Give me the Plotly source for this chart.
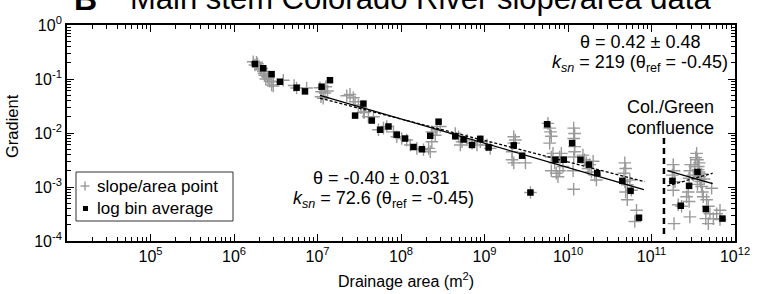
import plotly.graph_objects as go

# ---------------- data ----------------
# slope/area points (gray crosses)
point_area = [
    1.70e6, 1.86e6, 1.78e6, 2.00e6, 2.09e6, 2.24e6, 2.34e6, 2.51e6, 2.40e6, 2.69e6,
    2.82e6, 2.95e6, 3.89e6, 5.25e6, 5.62e6, 7.41e6, 1.07e7, 1.12e7, 1.10e7, 1.17e7,
    1.26e7, 1.23e7, 1.32e7, 2.24e7, 2.45e7, 2.69e7, 2.82e7, 3.09e7, 3.31e7, 3.63e7,
    4.07e7, 1.91e6, 2.14e6, 2.29e6, 2.57e6, 2.95e6,
    3.55e7, 4.68e7, 5.37e7, 6.17e7, 6.76e7, 8.13e7, 8.91e7, 1.02e8, 1.17e8, 1.29e8,
    1.55e8, 1.86e8, 2.14e8, 2.24e8, 2.34e8, 2.57e8, 2.69e8, 2.34e8, 2.95e8, 4.47e8,
    4.90e8, 5.13e8, 5.37e8, 6.17e8, 7.08e8, 8.13e8, 8.91e8, 1.07e9,
    1.17e9, 2.24e9, 2.34e9, 2.24e9, 2.14e9, 2.14e9, 2.24e9, 3.09e9, 5.75e9, 6.03e9,
    6.17e9, 6.31e9, 6.03e9, 6.31e9, 6.61e9, 6.92e9, 6.31e9, 7.24e9, 7.94e9, 7.59e9,
    7.94e9, 8.32e9, 8.71e9, 1.17e10, 1.20e10, 1.17e10, 1.20e10, 1.20e10, 1.17e10, 1.15e10,
    1.17e10, 1.51e10, 1.58e10, 1.66e10, 1.74e10, 1.82e10, 1.91e10, 2.09e10, 2.19e10, 2.00e10,
    4.79e10, 4.90e10, 4.68e10, 4.79e10, 5.13e10, 4.90e10, 5.13e10, 5.75e10, 6.61e10, 6.31e10,
    5.50e10,
    1.82e11, 1.86e11, 1.78e11, 1.91e11, 1.82e11, 1.86e11, 2.09e11, 2.29e11, 2.88e11, 2.63e11,
    2.75e11, 2.82e11, 2.82e11, 2.88e11, 2.95e11, 3.16e11, 3.47e11, 3.55e11, 3.63e11, 3.72e11,
    3.80e11, 3.89e11, 3.98e11, 4.07e11, 3.72e11, 4.17e11, 4.57e11, 4.79e11, 5.01e11, 4.47e11,
    4.79e11, 5.25e11, 6.03e11, 6.61e11, 6.61e11, 5.50e11, 3.39e11, 3.63e11, 3.80e11, 3.55e11,
    3.31e11, 3.98e11, 4.27e11, 3.55e9,
]
point_gradient = [
    0.209, 0.204, 0.182, 0.170, 0.148, 0.138, 0.117, 0.110, 0.100, 0.091,
    0.078, 0.089, 0.095, 0.076, 0.068, 0.068, 0.069, 0.058, 0.047, 0.044,
    0.072, 0.055, 0.060, 0.049, 0.052, 0.045, 0.038, 0.033, 0.0295, 0.024,
    0.020, 0.191, 0.158, 0.126, 0.105, 0.074,
    0.0245, 0.020, 0.0115, 0.0123, 0.0132, 0.0105, 0.0085, 0.0079, 0.0074, 0.0060,
    0.0052, 0.0049, 0.0052, 0.0045, 0.0069, 0.0091, 0.0115, 0.0105, 0.0132, 0.0098,
    0.0085, 0.0060, 0.0069, 0.0074, 0.0065, 0.0060, 0.0069, 0.0060,
    0.0052, 0.0085, 0.0074, 0.0065, 0.0045, 0.0032, 0.0028, 0.0028, 0.0151, 0.0123,
    0.0105, 0.0087, 0.0065, 0.0036, 0.0042, 0.0028, 0.0020, 0.0018, 0.0020, 0.00155,
    0.0036, 0.0042, 0.0024, 0.0123, 0.0098, 0.0079, 0.0056, 0.0045, 0.0036, 0.0020,
    0.00091, 0.0039, 0.0032, 0.0028, 0.0022, 0.0026, 0.0019, 0.00166, 0.00135, 0.0030,
    0.0028, 0.0022, 0.0018, 0.00126, 0.0011, 0.00081, 0.00058, 0.00087, 0.00037, 0.00023,
    0.00135,
    0.0026, 0.0020, 0.00166, 0.00126, 0.00087, 0.00021, 0.00047, 0.00044, 0.00028, 0.00066,
    0.00081, 0.00054, 0.00145, 0.0020, 0.0026, 0.00166, 0.0042, 0.0032, 0.0024, 0.0019,
    0.00155, 0.00126, 0.00102, 0.00081, 0.0028, 0.00066, 0.00058, 0.00044, 0.00032, 0.00026,
    0.00021, 0.00095, 0.00032, 0.00037, 0.00025, 0.00026, 0.0035, 0.0021, 0.00138, 0.00112,
    0.0024, 0.00174, 0.00141, 0.00079,
]

# log bin averages (black squares)
bin_area = [
    1.78e6, 2.24e6, 2.82e6, 3.55e6, 5.62e6, 7.08e6, 1.12e7, 1.41e7, 2.82e7, 3.55e7,
    4.47e7, 5.62e7, 7.08e7, 8.91e7, 1.12e8, 1.41e8, 1.78e8, 2.24e8, 2.82e8, 4.47e8,
    5.62e8, 7.08e8, 8.91e8, 1.12e9, 2.24e9, 2.82e9, 3.55e9, 5.62e9, 7.08e9, 8.91e9,
    1.12e10, 1.41e10, 1.78e10, 2.24e10, 4.47e10, 5.62e10, 7.08e10,
    1.78e11, 2.24e11, 2.82e11, 3.55e11, 4.47e11, 7.08e11,
]
bin_gradient = [
    0.190, 0.158, 0.123, 0.089, 0.069, 0.059, 0.072, 0.095, 0.021, 0.035,
    0.017, 0.0115, 0.0132, 0.0093, 0.0079, 0.0055, 0.0050, 0.0089, 0.0162, 0.0087,
    0.0076, 0.0060, 0.0078, 0.0054, 0.0059, 0.0038, 0.00079, 0.0145, 0.0032, 0.0032,
    0.0065, 0.0032, 0.0026, 0.0018, 0.0013, 0.00085, 0.00027,
    0.0013, 0.00045, 0.00105, 0.0019, 0.00039, 0.00026,
]

# fitted lines (end points)
ref_fit_area = [1.07e7, 8.1e10]          # k_sn = 72.6, theta_ref = -0.45 (solid)
ref_fit_gradient = [0.050, 0.00089]
reg_fit_area = [1.07e7, 8.3e10]          # theta = -0.40 regression (dotted)
reg_fit_gradient = [0.044, 0.00126]
up_ref_fit_area = [1.55e11, 5.4e11]      # k_sn = 219, theta_ref = -0.45 (solid)
up_ref_fit_gradient = [0.0020, 0.00115]
up_reg_fit_area = [1.55e11, 5.4e11]      # theta = 0.42 regression (dotted)
up_reg_fit_gradient = [0.00105, 0.0018]
confluence_area = [1.41e11, 1.41e11]
confluence_gradient = [0.0081, 0.00012]

x_tick_vals = [1e5, 1e6, 1e7, 1e8, 1e9, 1e10, 1e11, 1e12]
x_tick_text = ["10<sup>5</sup>", "10<sup>6</sup>", "10<sup>7</sup>", "10<sup>8</sup>",
               "10<sup>9</sup>", "10<sup>10</sup>", "10<sup>11</sup>", "10<sup>12</sup>"]
y_tick_vals = [1, 1e-1, 1e-2, 1e-3, 1e-4]
y_tick_text = ["10<sup>0</sup>", "10<sup>-1</sup>", "10<sup>-2</sup>",
               "10<sup>-3</sup>", "10<sup>-4</sup>"]

# ---------------- figure ----------------
FONT = "Liberation Sans, Arial, sans-serif"
GRAY = "#9a9a9a"

fig = go.Figure()
fig.add_trace(go.Scatter(
    x=point_area, y=point_gradient, mode="markers", name="slope/area point",
    marker=dict(symbol="cross-thin", size=9, color=GRAY, line=dict(color=GRAY, width=1.4)),
))
fig.add_trace(go.Scatter(
    x=bin_area, y=bin_gradient, mode="markers", name="log bin average",
    marker=dict(symbol="square", size=6.5, color="black"),
))
for xa, ya, dash in [(ref_fit_area, ref_fit_gradient, "solid"),
                     (reg_fit_area, reg_fit_gradient, "3px,2px"),
                     (up_ref_fit_area, up_ref_fit_gradient, "solid"),
                     (up_reg_fit_area, up_reg_fit_gradient, "3px,2px")]:
    fig.add_trace(go.Scatter(x=xa, y=ya, mode="lines", showlegend=False,
                             line=dict(color="black", width=1.3, dash=dash)))
fig.add_trace(go.Scatter(x=confluence_area, y=confluence_gradient, mode="lines",
                         showlegend=False,
                         line=dict(color="black", width=2.5, dash="6px,4px")))

minor_x = [m * 10 ** e for e in range(4, 12) for m in range(2, 10)]
minor_y = [m * 10 ** e for e in range(-4, 0) for m in range(2, 10)]

axis_common = dict(
    type="log", showgrid=False, zeroline=False, showline=True, linecolor="black",
    linewidth=1.8, mirror="allticks", ticks="inside", ticklen=7, tickwidth=1,
    tickcolor="black", tickfont=dict(family=FONT, size=16, color="black"),
    automargin=False,
)
fig.update_xaxes(
    **axis_common, range=[4, 12], tickmode="array", tickvals=x_tick_vals,
    ticktext=x_tick_text,
    minor=dict(tickmode="array", tickvals=minor_x, ticks="inside", ticklen=4,
               tickwidth=1, tickcolor="black", showgrid=False),
)
fig.update_yaxes(
    **axis_common, range=[-4, 0], tickmode="array", tickvals=y_tick_vals,
    ticktext=y_tick_text,
    minor=dict(tickmode="array", tickvals=minor_y, ticks="inside", ticklen=4,
               tickwidth=1, tickcolor="black", showgrid=False),
)

PW, PH, L, T = 668, 216, 67, 25


def px(xp):
    return (xp - L) / PW


def py(yp):
    return (T + PH - yp) / PH


def note(text, xp, yp, size=18, anchor="center", **kw):
    fig.add_annotation(text=text, xref="paper", yref="paper", x=px(xp), y=py(yp),
                       xanchor=anchor, yanchor="middle", showarrow=False,
                       font=dict(family=FONT, size=size, color="black"), **kw)


# title (clipped at the top like the reference)
note("<b>B</b>", 72, -1, size=32, anchor="left")
note("Main stem Colorado River slope/area data", 128, -1, size=31, anchor="left")

# axis titles
note("Gradient", 12, 126, size=16.5, textangle=-90)
note("Drainage area (m<sup>2</sup>)", 406, 280, size=16)

note("θ = 0.42 ± 0.48", 640, 42)
note("<i>k<sub>sn</sub></i> = 219 (θ<sub>ref</sub> = -0.45)", 640, 63)
note("Col./Green", 670, 107)
note("confluence", 670, 128)
note("θ = -0.40 ± 0.031", 381, 178)
note("<i>k<sub>sn</sub></i> = 72.6 (θ<sub>ref</sub> = -0.45)", 383, 199)

# hand-drawn legend box
fig.add_shape(type="rect", xref="paper", yref="paper", x0=px(76), x1=px(233),
              y0=py(221), y1=py(172), line=dict(color="#333", width=1), fillcolor="white",
              layer="above")
fig.add_shape(type="line", xref="paper", yref="paper", x0=px(80.5), x1=px(89.5),
              y0=py(186), y1=py(186), line=dict(color=GRAY, width=1.4), layer="above")
fig.add_shape(type="line", xref="paper", yref="paper", x0=px(85), x1=px(85),
              y0=py(181.5), y1=py(190.5), line=dict(color=GRAY, width=1.4), layer="above")
fig.add_shape(type="rect", xref="paper", yref="paper", x0=px(83), x1=px(88),
              y0=py(211), y1=py(206), line=dict(color="black", width=0), fillcolor="black",
              layer="above")
note("slope/area point", 95, 186, size=17, anchor="left")
note("log bin average", 95, 208, size=17, anchor="left")

fig.update_layout(
    width=761, height=294, margin=dict(l=L, r=761 - L - PW, t=T, b=294 - T - PH),
    plot_bgcolor="white", paper_bgcolor="white", showlegend=False,
    font=dict(family=FONT, color="black"),
)
fig.write_html("out.html", config={"displayModeBar": False},
               post_script="document.body.style.margin='0';document.body.style.overflow='hidden';")
